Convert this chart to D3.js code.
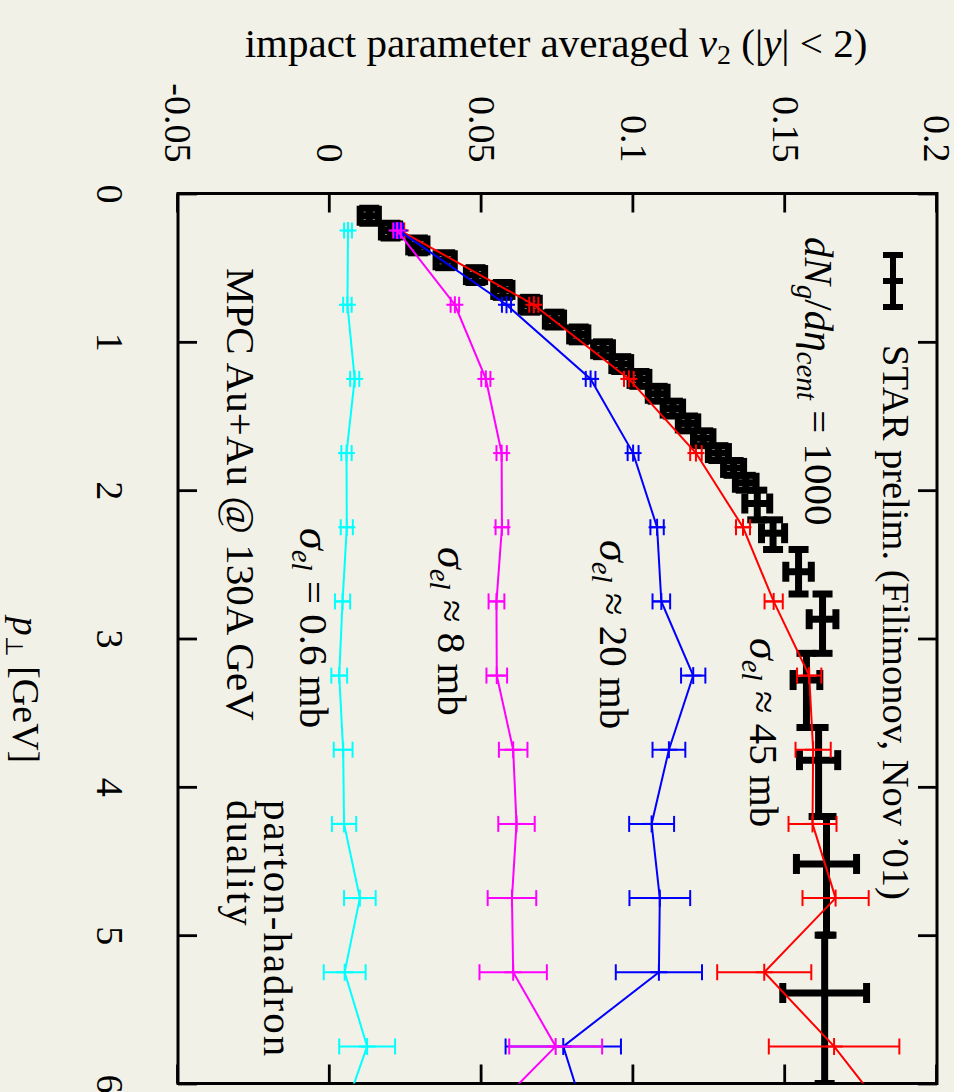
<!DOCTYPE html>
<html>
<head>
<meta charset="utf-8">
<script src="https://cdn.jsdelivr.net/npm/d3@7"></script>
<style>
  html, body { margin: 0; padding: 0; background: #f2f1e7; }
  svg { display: block; }
  text { font-family: 'Liberation Serif', 'Times New Roman', serif; fill: #000; }
</style>
</head>
<body>
<svg id="chart"></svg>
<script>
// ---- data ----
const ptTicks = [0, 1, 2, 3, 4, 5, 6];
const ptTickLabels = ['0', '1', '2', '3', '4', '5', '6'];
const v2Ticks = [-0.05, 0, 0.05, 0.1, 0.15, 0.2];
const v2TickLabels = ['-0.05', '0', '0.05', '0.1', '0.15', '0.2'];

// MPC parton cascade, pT bin centres (last one lies beyond the frame)
const modelPt = [0.25, 0.75, 1.25, 1.75, 2.25, 2.75, 3.25, 3.75, 4.25, 4.75, 5.25, 5.75, 6.25];

const v2Sigma45 = [0.0232, 0.0672, 0.0985, 0.1206, 0.1361, 0.1462, 0.1579, 0.1592, 0.1590, 0.1666, 0.1431, 0.1661, 0.1852];
const err45     = [0.0013, 0.0015, 0.0016, 0.0019, 0.0023, 0.0030, 0.0040, 0.0058, 0.0079, 0.0109, 0.0155, 0.0215, 0.0280];

const v2Sigma20 = [0.0228, 0.0582, 0.0859, 0.0999, 0.1078, 0.1092, 0.1197, 0.1117, 0.1060, 0.1087, 0.1084, 0.0769, 0.0846];
const err20     = [0.0013, 0.0015, 0.0016, 0.0018, 0.0022, 0.0029, 0.0040, 0.0054, 0.0074, 0.0100, 0.0142, 0.0190, 0.0250];

const v2Sigma8  = [0.0222, 0.0412, 0.0514, 0.0566, 0.0567, 0.0549, 0.0550, 0.0604, 0.0615, 0.0600, 0.0604, 0.0744, 0.0503];
const err8      = [0.0013, 0.0014, 0.0015, 0.0017, 0.0021, 0.0026, 0.0034, 0.0047, 0.0060, 0.0080, 0.0111, 0.0153, 0.0200];

const v2Sigma06 = [0.0060, 0.0058, 0.0082, 0.0055, 0.0056, 0.0042, 0.0031, 0.0044, 0.0047, 0.0099, 0.0049, 0.0123, 0.0037];
const err06     = [0.0013, 0.0014, 0.0015, 0.0017, 0.0020, 0.0025, 0.0026, 0.0031, 0.0040, 0.0052, 0.0069, 0.0092, 0.0120];

// STAR preliminary (Filimonov, Nov '01)
const starPt   = [0.15, 0.25, 0.35, 0.45, 0.55, 0.65, 0.75, 0.85, 0.95, 1.05, 1.15, 1.25, 1.35, 1.45, 1.55, 1.65, 1.75, 1.85, 1.95,
                  2.09, 2.29, 2.55, 2.87, 3.28, 3.82, 4.52, 5.39];
const starPtLo = [0.10, 0.20, 0.30, 0.40, 0.50, 0.60, 0.70, 0.80, 0.90, 1.00, 1.10, 1.20, 1.30, 1.40, 1.50, 1.60, 1.70, 1.80, 1.90,
                  2.0, 2.2, 2.4, 2.7, 3.1, 3.6, 4.2, 5.0];
const starPtHi = [0.20, 0.30, 0.40, 0.50, 0.60, 0.70, 0.80, 0.90, 1.00, 1.10, 1.20, 1.30, 1.40, 1.50, 1.60, 1.70, 1.80, 1.90, 2.00,
                  2.2, 2.4, 2.7, 3.1, 3.6, 4.2, 5.0, 6.0];
const starV2   = [0.013, 0.020, 0.029, 0.038, 0.048, 0.057, 0.066, 0.074, 0.082, 0.090, 0.096, 0.102, 0.108, 0.113, 0.118, 0.123, 0.128, 0.133, 0.137,
                  0.1408, 0.1460, 0.1544, 0.1623, 0.1570, 0.1610, 0.1636, 0.1630];
const starErr  = [0.0030, 0.0030, 0.0030, 0.0030, 0.0030, 0.0030, 0.0030, 0.0030, 0.0030, 0.0031, 0.0031, 0.0031, 0.0031, 0.0032, 0.0032, 0.0032, 0.0033, 0.0033, 0.0034,
                  0.0041, 0.0038, 0.0042, 0.0044, 0.0044, 0.0063, 0.0099, 0.0138];

// ---- layout ----
// The whole figure is drawn as a normal plot and then turned 90 degrees clockwise.
const W = 954, H = 1092;
const box = { left: 193.5, right: 1083.5, top: 17, bottom: 776 };   // unrotated coords
const font = 38;
const serif = "'Liberation Serif', 'Times New Roman', serif";

const svg = d3.select('#chart').attr('width', W).attr('height', H);
svg.append('rect').attr('width', W).attr('height', H).attr('fill', '#f2f1e7');

const g = svg.append('g').attr('transform', `translate(${W},0) rotate(90)`);

const x = d3.scaleLinear().domain([0, 6]).range([box.left, box.right]);
const y = d3.scaleLinear().domain([-0.05, 0.2]).range([box.bottom, box.top]);

g.append('clipPath').attr('id', 'plotClip')
    .append('rect')
    .attr('x', box.left).attr('y', box.top)
    .attr('width', box.right - box.left).attr('height', box.bottom - box.top);

// Axes (ticks point inward, mirrored on the opposite sides)
function styleAxis(sel) {
    sel.select('.domain').remove();
    sel.selectAll('.tick line').attr('stroke', '#000').attr('stroke-width', 2.8);
    sel.selectAll('.tick text')
        .style('font-family', serif)
        .style('font-size', font + 'px');
}

g.append('g')
    .attr('transform', `translate(${box.left},0)`)
    .call(d3.axisLeft(y).tickValues(v2Ticks).tickFormat((d, i) => v2TickLabels[i])
        .tickSizeInner(-19).tickSizeOuter(0).tickPadding(31))
    .call(styleAxis);

g.append('g')
    .attr('transform', `translate(${box.right},0)`)
    .call(d3.axisRight(y).tickValues(v2Ticks).tickFormat('')
        .tickSizeInner(-19).tickSizeOuter(0))
    .call(styleAxis);

g.append('g')
    .attr('transform', `translate(0,${box.bottom})`)
    .call(d3.axisBottom(x).tickValues(ptTicks).tickFormat((d, i) => ptTickLabels[i])
        .tickSizeInner(-19).tickSizeOuter(0).tickPadding(54))
    .call(styleAxis);

g.append('g')
    .attr('transform', `translate(0,${box.top})`)
    .call(d3.axisTop(x).tickValues(ptTicks).tickFormat('')
        .tickSizeInner(-19).tickSizeOuter(0))
    .call(styleAxis);

// Frame
g.append('rect')
    .attr('x', box.left).attr('y', box.top)
    .attr('width', box.right - box.left).attr('height', box.bottom - box.top)
    .attr('fill', 'none').attr('stroke', '#000').attr('stroke-width', 3);

const plot = g.append('g').attr('clip-path', 'url(#plotClip)');

function seg(sel, x1, y1, x2, y2) {
    sel.append('line').attr('x1', x1).attr('y1', y1).attr('x2', x2).attr('y2', y2);
}

// STAR data: x and y error bars, thick
function drawStar() {
    const s = plot.append('g').attr('stroke', '#000').attr('stroke-width', 7);
    const cap = 10;
    starPt.forEach((p, i) => {
        const cy = y(starV2[i]);
        const x0 = x(starPtLo[i]), x1 = x(starPtHi[i]), cx = x(p);
        const ylo = y(starV2[i] - starErr[i]), yhi = y(starV2[i] + starErr[i]);
        seg(s, x0, cy, x1, cy);
        seg(s, x0, cy - cap, x0, cy + cap);
        seg(s, x1, cy - cap, x1, cy + cap);
        seg(s, cx, ylo, cx, yhi);
        seg(s, cx - cap, ylo, cx + cap, ylo);
        seg(s, cx - cap, yhi, cx + cap, yhi);
    });
}

// Model curves: line, y error bars and a plus marker
function drawModel(color, v2, err) {
    const s = plot.append('g').attr('stroke', color).attr('stroke-width', 2).attr('fill', 'none');
    s.append('path')
        .attr('d', d3.line().x((d, i) => x(modelPt[i])).y(d => y(d))(v2));
    const cap = 8, mark = 8.5;
    v2.forEach((v, i) => {
        const cx = x(modelPt[i]), cy = y(v);
        const ylo = y(v - err[i]), yhi = y(v + err[i]);
        seg(s, cx, ylo, cx, yhi);
        seg(s, cx - cap, ylo, cx + cap, ylo);
        seg(s, cx - cap, yhi, cx + cap, yhi);
        seg(s, cx - mark, cy, cx + mark, cy);
        seg(s, cx, cy - mark, cx, cy + mark);
    });
}

drawStar();
drawModel('#ff0000', v2Sigma45, err45);
drawModel('#0000ff', v2Sigma20, err20);
drawModel('#ff00ff', v2Sigma8, err8);
drawModel('#00ffff', v2Sigma06, err06);

// Legend
const leg = g.append('g').attr('stroke', '#000').attr('stroke-width', 6);
seg(leg, 255, 61, 307, 61);
seg(leg, 255, 51, 255, 71);
seg(leg, 307, 51, 307, 71);
seg(leg, 281, 51, 281, 71);
g.append('text').attr('x', 345).attr('y', 71)
    .style('font-size', '38.5px')
    .text("STAR prelim. (Filimonov, Nov \u201901)");

// Text helpers
function sigmaLabel(xPos, yPos, rel, value) {
    const t = g.append('text').attr('x', xPos).attr('y', yPos).style('font-size', '41px');
    t.append('tspan').style('font-style', 'italic').style('font-size', '44px').text('\u03c3');
    t.append('tspan').style('font-style', 'italic').style('font-size', '29px').attr('dy', 8).text('el');
    t.append('tspan').attr('dy', -8).text(' ' + rel + ' ' + value + ' mb');
}

sigmaLabel(638, 204, '\u2248', '45');
sigmaLabel(540, 354, '\u2248', '20');
sigmaLabel(547, 516, '\u2248', '8');
sigmaLabel(528, 654, '=', '0.6');

const dn = g.append('text').attr('x', 237).attr('y', 149).style('font-size', '41px');
dn.append('tspan').style('font-style', 'italic').text('dN');
dn.append('tspan').style('font-style', 'italic').style('font-size', '29px').attr('dy', 8).text('g');
dn.append('tspan').attr('dy', -8).text('/');
dn.append('tspan').style('font-style', 'italic').text('d\u03b7');
dn.append('tspan').style('font-style', 'italic').style('font-size', '29px').attr('dy', 8).text('cent');
dn.append('tspan').attr('dy', -8).text(' = 1000');

g.append('text').attr('x', 268).attr('y', 727).style('font-size', '41px')
    .text('MPC Au+Au @ 130A GeV');
g.append('text').attr('x', 800).attr('y', 690).style('font-size', '41px')
    .style('letter-spacing', '2px')
    .text('parton-hadron');
g.append('text').attr('x', 800).attr('y', 727).style('font-size', '41px')
    .style('letter-spacing', '2px')
    .text('duality');

// Axis titles
const xt = g.append('text').attr('x', 690).attr('y', 941).attr('text-anchor', 'middle')
    .style('font-size', '38px');
xt.append('tspan').style('font-style', 'italic').text('p');
xt.append('tspan').style('font-size', '24px').attr('dy', 7).text('\u22a5');
xt.append('tspan').attr('dy', -7).text(' [GeV]');

const yt = g.append('text').attr('transform', 'translate(57,398) rotate(-90)')
    .attr('text-anchor', 'middle').style('font-size', '41px');
yt.append('tspan').text('impact parameter averaged ');
yt.append('tspan').style('font-style', 'italic').text('v');
yt.append('tspan').style('font-size', '28px').attr('dy', 7).text('2');
yt.append('tspan').attr('dy', -7).text(' (|');
yt.append('tspan').style('font-style', 'italic').text('y');
yt.append('tspan').text('| < 2)');
</script>
</body>
</html>
